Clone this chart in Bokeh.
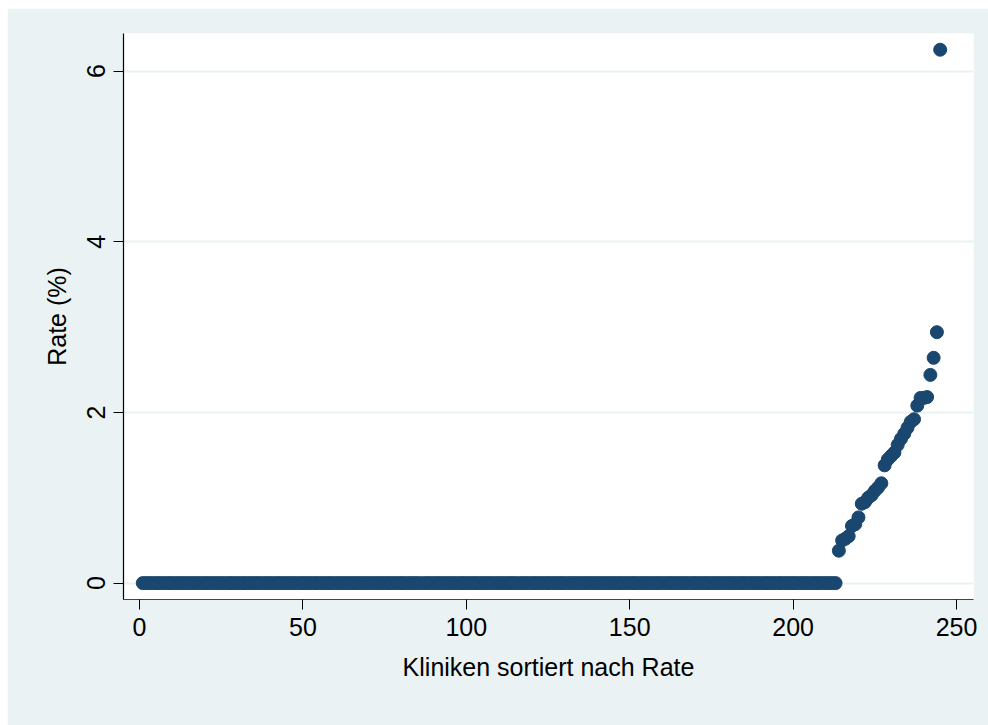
from bokeh.plotting import figure
from bokeh.models import Range1d, FixedTicker, ColumnDataSource
from bokeh.embed import file_html
from bokeh.resources import INLINE

# Clinics ranked by rate: the first 213 have a rate of zero
n_zero_clinics = 213
nonzero_rates = [
    0.38, 0.50, 0.52, 0.55, 0.67, 0.69, 0.77, 0.93, 0.95, 1.00,
    1.03, 1.08, 1.12, 1.17, 1.38, 1.45, 1.49, 1.53, 1.62, 1.69,
    1.75, 1.82, 1.89, 1.92, 2.08, 2.17, 2.17, 2.18, 2.44, 2.64,
    2.94, 6.25,
]
rates = [0.0] * n_zero_clinics + nonzero_rates
ranks = list(range(1, len(rates) + 1))

x_ticks = [0, 50, 100, 150, 200, 250]
y_ticks = [0, 2, 4, 6]

BG = "#EAF2F3"
NAVY = "#1A476F"
FONT = "Liberation Sans"

src = ColumnDataSource(data=dict(rank=ranks, rate=rates))

p = figure(
    width=981, height=717,
    output_backend="svg", toolbar_location=None,
    x_range=Range1d(-4.9, 255.2), y_range=Range1d(-0.192, 6.44),
    min_border_left=116, min_border_right=15,
    min_border_top=25, min_border_bottom=126,
)
p.margin = (8, 0, 0, 7)
p.background_fill_color = "white"
p.border_fill_color = BG
p.outline_line_color = None

p.scatter("rank", "rate", source=src, size=13, color=NAVY, line_color=NAVY)

# grid: horizontal only
p.xgrid.grid_line_color = None
p.ygrid.grid_line_color = BG
p.ygrid.grid_line_width = 2
p.ygrid.ticker = FixedTicker(ticks=y_ticks)

for ax in (p.xaxis[0], p.yaxis[0]):
    ax.axis_line_color = "black"
    ax.axis_line_width = 1.2
    ax.major_tick_line_color = "black"
    ax.major_tick_out = 10
    ax.major_tick_in = 0
    ax.minor_tick_line_color = None
    ax.major_label_text_font = FONT
    ax.major_label_text_font_size = "25px"
    ax.major_label_text_color = "black"
    ax.axis_label_text_font = FONT
    ax.axis_label_text_font_size = "25px"
    ax.axis_label_text_font_style = "normal"
    ax.axis_label_text_color = "black"

p.xaxis[0].ticker = FixedTicker(ticks=x_ticks)
p.xaxis[0].axis_line_color = "#444444"
p.xaxis[0].axis_label = "Kliniken sortiert nach Rate"
p.xaxis[0].major_label_standoff = 8
p.xaxis[0].axis_label_standoff = 14

p.yaxis[0].ticker = FixedTicker(ticks=y_ticks)
p.yaxis[0].axis_label = "Rate (%)"
p.yaxis[0].major_label_orientation = "vertical"
p.yaxis[0].major_label_standoff = 8
p.yaxis[0].axis_label_standoff = 14

open("out.html", "w").write(file_html(p, INLINE))
